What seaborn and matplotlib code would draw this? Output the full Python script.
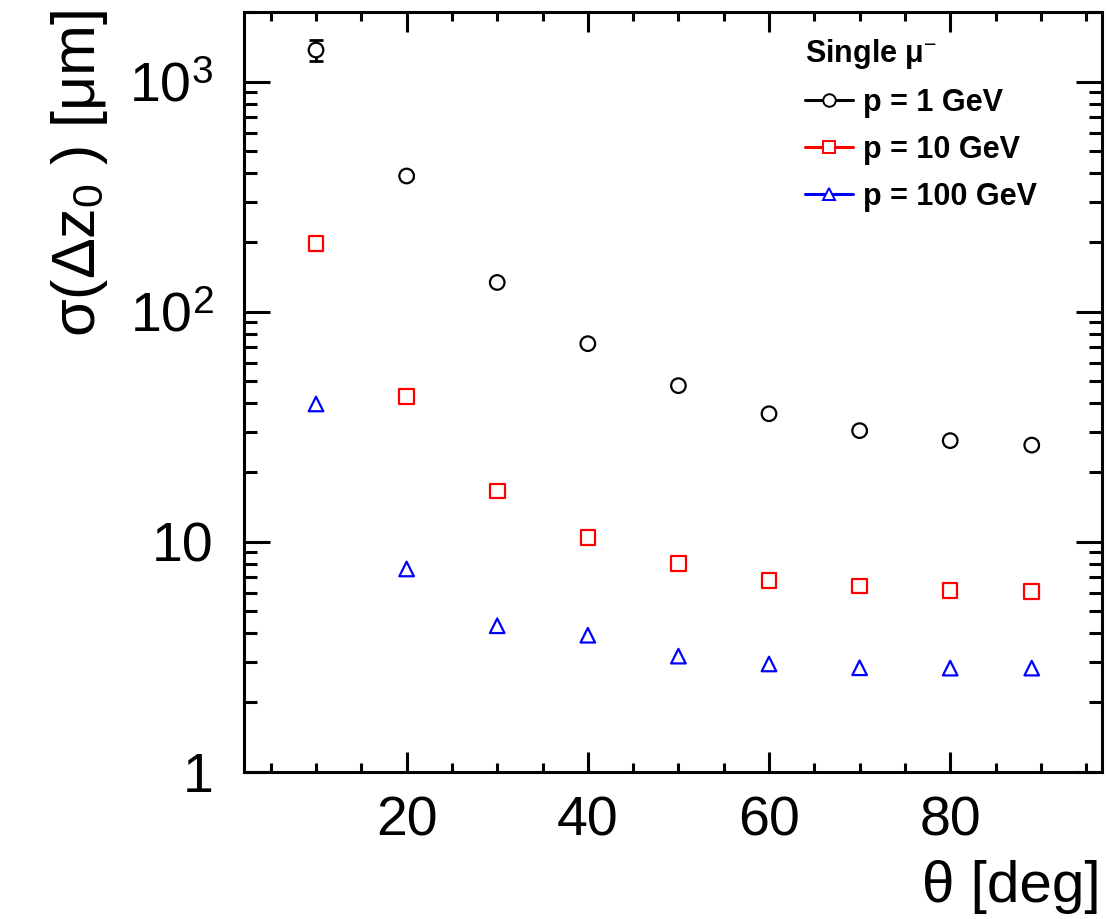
import numpy as np
import pandas as pd
import matplotlib
matplotlib.use("Agg")
import matplotlib.pyplot as plt
from matplotlib.lines import Line2D
from matplotlib.ticker import FixedLocator, FixedFormatter, LogLocator, MultipleLocator, NullFormatter
import seaborn as sns

# ---- data ----
theta = [10, 20, 30, 40, 50, 60, 70, 80, 89]
sigma_1gev = [1373, 389, 134, 72.6, 47.7, 36.0, 30.4, 27.5, 26.3]
err_1gev = [140, 6, 2, 1, 0.7, 0.5, 0.4, 0.4, 0.4]
sigma_10gev = [198, 42.7, 16.6, 10.4, 8.05, 6.77, 6.42, 6.15, 6.09]
sigma_100gev = [39.7, 7.61, 4.31, 3.92, 3.18, 2.94, 2.83, 2.82, 2.82]
series_labels = ["p = 1 GeV", "p = 10 GeV", "p = 100 GeV"]
series_colors = ["#000000", "#ff0000", "#0000ff"]
series_markers = ["o", "s", "^"]
ytick_vals = [1, 10, 100, 1000]
ytick_labels = ["1", "10", "$10^{2}$", "$10^{3}$"]
xtick_vals = [20, 40, 60, 80]

df = pd.DataFrame({
    "theta": theta * 3,
    "sigma": sigma_1gev + sigma_10gev + sigma_100gev,
    "series": [series_labels[0]] * len(theta) + [series_labels[1]] * len(theta) + [series_labels[2]] * len(theta),
})

sns.set_theme(style="ticks")
plt.rcParams["font.family"] = ["Liberation Sans", "DejaVu Sans"]
plt.rcParams["mathtext.fontset"] = "custom"
plt.rcParams["mathtext.rm"] = "Liberation Sans"
plt.rcParams["mathtext.it"] = "Liberation Serif:italic"
plt.rcParams["mathtext.bf"] = "Liberation Sans:bold"
for k in ["text.color", "axes.labelcolor", "xtick.color", "ytick.color", "axes.edgecolor"]:
    plt.rcParams[k] = "black"

fig = plt.figure(figsize=(11.08, 9.19), dpi=100)
ax = fig.add_axes([244 / 1108, 1 - 771.7 / 919, (1101.5 - 244) / 1108, (771.7 - 12) / 919])

# error bars (drawn below markers)
ax.errorbar(theta, sigma_1gev, yerr=err_1gev, fmt="none", ecolor="black",
            elinewidth=2, capsize=5, capthick=2, zorder=2)

sns.scatterplot(data=df, x="theta", y="sigma", hue="series", style="series",
                palette=dict(zip(series_labels, series_colors)),
                markers=dict(zip(series_labels, series_markers)),
                hue_order=series_labels, style_order=series_labels,
                s=110, facecolor="white", linewidth=1.6, legend=False, ax=ax, zorder=3)
# make markers hollow with coloured edges
for coll in ax.collections:
    fc = coll.get_facecolors()
    if len(fc):
        coll.set_edgecolors(fc)
        coll.set_facecolors("white")

ax.set_yscale("log")
ax.set_ylim(1, 2009)
ax.set_xlim(2.05, 96.7)

ax.yaxis.set_major_locator(FixedLocator(ytick_vals))
ax.yaxis.set_major_formatter(FixedFormatter(ytick_labels))
ax.yaxis.set_minor_locator(LogLocator(base=10, subs=np.arange(2, 10)))
ax.yaxis.set_minor_formatter(NullFormatter())
ax.xaxis.set_major_locator(FixedLocator(xtick_vals))
ax.xaxis.set_minor_locator(MultipleLocator(5))

for s in ax.spines.values():
    s.set_linewidth(2.2)
    s.set_color("black")

ax.tick_params(axis="both", which="both", direction="in", top=True, right=True, width=2.2,
               colors="black", labelcolor="black")
ax.tick_params(axis="x", which="major", length=14.5, pad=17, labelsize=40)
ax.tick_params(axis="x", which="minor", length=6.5)
ax.tick_params(axis="y", which="major", length=18.7, pad=22, labelsize=40)
ax.tick_params(axis="y", which="minor", length=9.4)
ax.set_xlabel("")
ax.set_ylabel("")

fig.text(1101 / 1108, 1 - 914 / 919, "θ [deg]", ha="right", va="bottom", fontsize=42,
         color="black", family=["Liberation Sans", "DejaVu Sans"])
fig.text(80 / 1108, 1 - 10 / 919, "σ(Δz$_{0}$ ) [μm]", ha="center", va="top", rotation=90,
         fontsize=44, color="black", family=["Liberation Sans", "DejaVu Sans"])

handles = [Line2D([0], [0], color=c, marker=m, markersize=9, markerfacecolor="white",
                  markeredgecolor=c, markeredgewidth=1.4, linewidth=2.2)
           for c, m in zip(series_colors, series_markers)]
leg = ax.legend(handles, series_labels, loc="upper left",
                bbox_to_anchor=(790 / 1108, 1 - 22 / 919), bbox_transform=fig.transFigure,
                frameon=False, borderpad=0, handlelength=1.55, handletextpad=0.35,
                labelspacing=0.55, numpoints=1,
                title="Single μ$^{-}$", prop={"weight": "bold", "size": 22})
leg.get_title().set_fontsize(22)
leg.get_title().set_fontweight("bold")
leg._legend_box.align = "left"
for t in leg.get_texts():
    t.set_color("black")
leg.get_title().set_color("black")

fig.savefig("out.png", dpi=100)
